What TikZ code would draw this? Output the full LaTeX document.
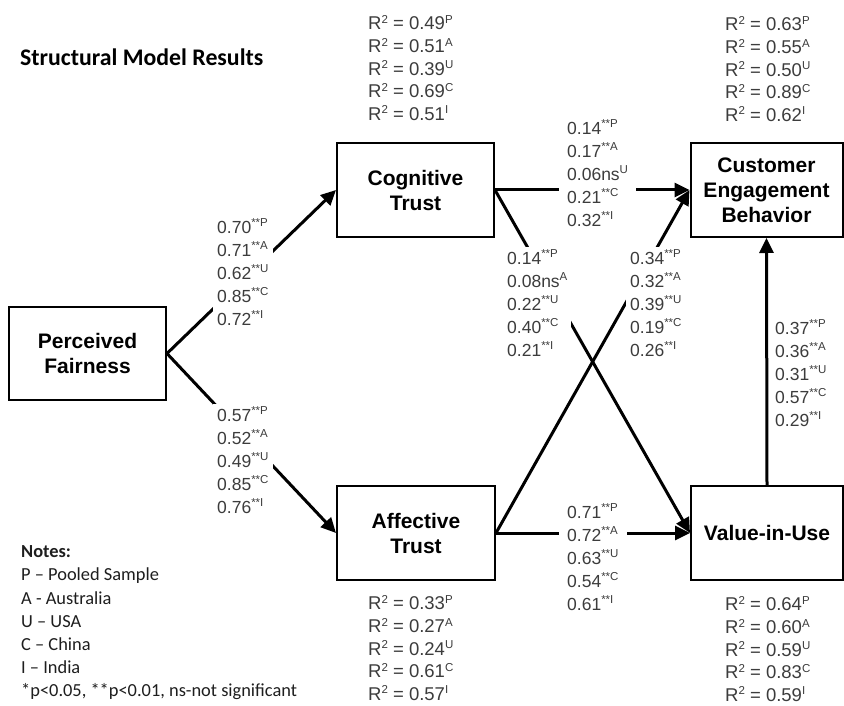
\documentclass[tikz,border=0pt]{standalone}
\usepackage{fontspec}
\setmainfont{Liberation Sans}
\newfontfamily\calib{Carlito}
\usetikzlibrary{arrows.meta}
\definecolor{numgray}{HTML}{3C3C3C}
\definecolor{notegray}{HTML}{1E1E1E}
\tikzset{
  construct/.style={draw=black, line width=2pt, fill=white, inner sep=0pt, align=center,
    font=\fontsize{21}{25}\selectfont\bfseries},
  link/.style={line width=3pt, -{Triangle[length=15pt,width=14pt]}},
  coef/.style={anchor=west, align=left, fill=white, inner xsep=4pt, inner ysep=3pt, text=numgray,
    font=\fontsize{17.5}{23}\selectfont},
  rsq/.style={anchor=west, align=left, inner sep=0pt, text=numgray,
    font=\fontsize{18.5}{22.6}\selectfont},
}
\newcommand{\sig}[1]{\raisebox{6.5pt}{\fontsize{11.5}{11.5}\selectfont #1}}
\begin{document}
\begin{tikzpicture}[x=1pt,y=-1pt]
\useasboundingbox[fill=white] (0,0) rectangle (844,706);

% constructs
\node[construct, minimum width=157pt, minimum height=93pt] (pf) at (87.5,353.5) {Perceived\\Fairness};
\node[construct, minimum width=157pt, minimum height=94pt] (ct) at (415.5,190) {Cognitive\\Trust};
\node[construct, minimum width=152pt, minimum height=94pt] (ceb) at (766.5,190) {Customer\\Engagement\\Behavior};
\node[construct, minimum width=158pt, minimum height=94pt] (at) at (416,533) {Affective\\Trust};
\node[construct, minimum width=152pt, minimum height=94pt] (viu) at (767,533) {Value-in-Use};

% connectors
\draw[link] (pf.east) -- (ct.west);
\draw[link] (pf.east) -- (at.west);
\draw[link] (ct.east) -- (ceb.west);
\draw[link] (ct.east) -- (viu.west);
\draw[link] (at.east) -- (ceb.west);
\draw[link] (at.east) -- (viu.west);
\draw[link] (viu.north) -- (ceb.south);

% path coefficients
\node[coef] (l1) at (213,272) {0.70\sig{**P}\\0.71\sig{**A}\\0.62\sig{**U}\\0.85\sig{**C}\\0.72\sig{**I}};
\node[coef] (l2) at (213,460) {0.57\sig{**P}\\0.52\sig{**A}\\0.49\sig{**U}\\0.85\sig{**C}\\0.76\sig{**I}};
\node[coef, inner xsep=8pt] (l3) at (559,173) {0.14\sig{**P}\\0.17\sig{**A}\\0.06ns\sig{U}\\0.21\sig{**C}\\0.32\sig{**I}};
\node[coef] (l4) at (503,303) {0.14\sig{**P}\\0.08ns\sig{A}\\0.22\sig{**U}\\0.40\sig{**C}\\0.21\sig{**I}};
\node[coef] (l5) at (626,303) {0.34\sig{**P}\\0.32\sig{**A}\\0.39\sig{**U}\\0.19\sig{**C}\\0.26\sig{**I}};
\node[coef, inner xsep=8pt] (l6) at (559,557) {0.71\sig{**P}\\0.72\sig{**A}\\0.63\sig{**U}\\0.54\sig{**C}\\0.61\sig{**I}};
\node[coef] (l7) at (771,373) {0.37\sig{**P}\\0.36\sig{**A}\\0.31\sig{**U}\\0.57\sig{**C}\\0.29\sig{**I}};

% R squared
\node[rsq] (r1) at (368,68) {R\sig{2} = 0.49\sig{P}\\R\sig{2} = 0.51\sig{A}\\R\sig{2} = 0.39\sig{U}\\R\sig{2} = 0.69\sig{C}\\R\sig{2} = 0.51\sig{I}};
\node[rsq] (r2) at (725,69) {R\sig{2} = 0.63\sig{P}\\R\sig{2} = 0.55\sig{A}\\R\sig{2} = 0.50\sig{U}\\R\sig{2} = 0.89\sig{C}\\R\sig{2} = 0.62\sig{I}};
\node[rsq] (r3) at (368,648) {R\sig{2} = 0.33\sig{P}\\R\sig{2} = 0.27\sig{A}\\R\sig{2} = 0.24\sig{U}\\R\sig{2} = 0.61\sig{C}\\R\sig{2} = 0.57\sig{I}};
\node[rsq] (r4) at (725,649) {R\sig{2} = 0.64\sig{P}\\R\sig{2} = 0.60\sig{A}\\R\sig{2} = 0.59\sig{U}\\R\sig{2} = 0.83\sig{C}\\R\sig{2} = 0.59\sig{I}};

% title and notes
\node[anchor=west, inner sep=0pt, font=\calib\fontsize{23.8}{28}\selectfont\bfseries] (title) at (20,57) {Structural Model Results};
\node[anchor=west, align=left, inner sep=0pt, text=notegray, font=\calib\fontsize{18.4}{23.2}\selectfont] (notes) at (21,623)
  {\textbf{Notes:}\\P – Pooled Sample\\A - Australia\\U – USA\\C – China\\I – India\\*p<0.05, **p<0.01, ns-not significant};
\end{tikzpicture}
\end{document}
